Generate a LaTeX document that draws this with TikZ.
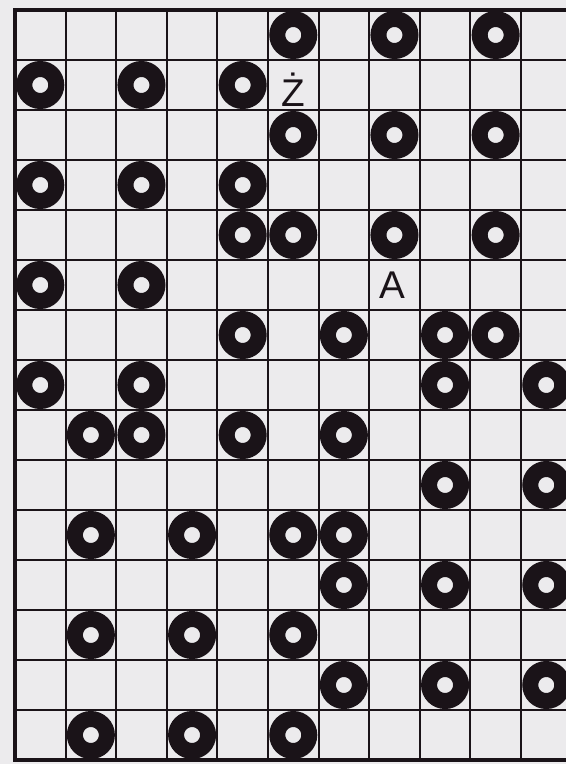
\documentclass[tikz,border=0pt]{standalone}
\usepackage{fontspec}
\setsansfont{Liberation Sans}
\usetikzlibrary{positioning}
\definecolor{ink}{RGB}{26,19,24}
\definecolor{paper}{RGB}{236,235,237}

\begin{document}
\begin{tikzpicture}[
    x=1.012cm, y=-1cm,
    thick,
    every node/.style={font=\sffamily},
    gridline/.style={draw=ink, line width=1.1pt},
    frame/.style={draw=ink, line width=2pt, line join=miter},
    ring/.style={circle, draw=ink, fill=paper, line width=0.32cm, minimum size=0.64cm, inner sep=0pt},
    letter/.style={font=\sffamily\fontsize{22}{22}\selectfont, text=ink}
]

% Page
\useasboundingbox[fill=paper] (-0.296,-0.2) rectangle (10.889,15.08);
\clip (-0.296,-0.2) rectangle (10.889,15.08);

% Grid
\foreach \c in {1,...,10} \draw[gridline] (\c,0) -- (\c,15);
\foreach \r in {1,...,14} \draw[gridline] (0,\r) -- (11.2,\r);
\draw[frame] (11.2,0) -- (0,0) -- (0,15) -- (11.2,15);

% Rings (row/columns)
\foreach \r/\cs in {0/{5,7,9}, 1/{0,2,4}, 2/{5,7,9}, 3/{0,2,4}, 4/{4,5,7,9},
    5/{0,2}, 6/{4,6,8,9}, 7/{0,2,8,10}, 8/{1,2,4,6}, 9/{8,10},
    10/{1,3,5,6}, 11/{6,8,10}, 12/{1,3,5}, 13/{6,8,10}, 14/{1,3,5}}
    \foreach \c in \cs
        \node[ring] (r\r-\c) at (\c+0.5,\r+0.5) {};

% Letters
\node[letter] (zh) at (5.5,1.6) {Ż};
\node[letter] (a) at (7.45,5.5) {A};

\end{tikzpicture}
\end{document}
